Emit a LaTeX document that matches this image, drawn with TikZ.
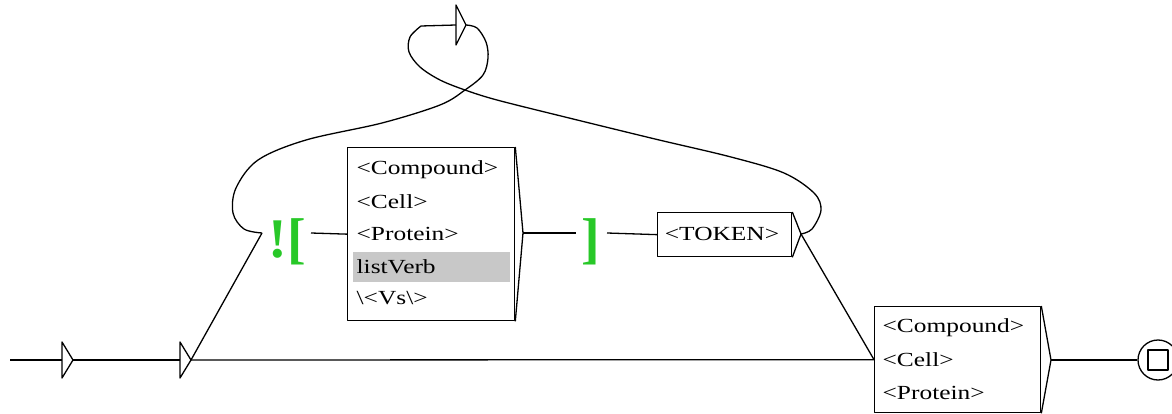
\documentclass[tikz,border=0pt]{standalone}
\usepackage{fontspec}
\newfontfamily\uxfont[FakeStretch=1.27]{Liberation Serif}
\newfontfamily\uxbold{Liberation Serif}
\definecolor{ctxgreen}{RGB}{40,200,40}
\definecolor{selgray}{RGB}{200,200,200}
\begin{document}
\begin{tikzpicture}[x=1pt,y=-1pt, line width=1.3pt, line join=round,
  boxrect/.style={draw, rectangle, anchor=north west, inner sep=0pt},
  lbl/.style={font=\uxfont\fontsize{20}{22}\selectfont, anchor=west, inner sep=0pt},
  ctx/.style={font=\uxbold\bfseries\fontsize{56}{60}\selectfont, text=ctxgreen, inner sep=0pt},
]
\useasboundingbox (0,0) rectangle (1172,414);

% ---------- states / arrows ----------
\coordinate (start) at (10,360);
\coordinate (s0in) at (62,360);
\coordinate (s0out) at (73,360);
\coordinate (s1in) at (180,360);
\coordinate (s1out) at (191,360);
\draw (62,342) -- (s0out) -- (62,378) -- cycle;
\draw (180,342) -- (s1out) -- (180,378) -- cycle;

% empty box at top
\coordinate (Ein) at (456,25);
\coordinate (Eout) at (466,25);
\draw (456,5) -- (Eout) -- (456,45) -- cycle;

% context start
\node[ctx] (ctxs) at (287,242) {![};
\coordinate (ctxin) at (262,233);
\coordinate (ctxout) at (311,233);

% box 1
\node[boxrect, minimum width=167pt, minimum height=173pt] (b1) at (347,147) {};
\fill[selgray] (353,252) rectangle (510,282);
\node[lbl] (b1a) at (356,170) {<Compound>};
\node[lbl] (b1b) at (356,202) {<Cell>};
\node[lbl] (b1c) at (356,234) {<Protein>};
\node[lbl] (b1d) at (356,267) {listVerb};
\node[lbl] (b1e) at (356,298) {\textbackslash<Vs\textbackslash>};
\coordinate (b1out) at (523,233);
\draw (b1.north east) -- (b1out) -- (b1.south east);

% context end
\node[ctx] (ctxe) at (591,242) {]};
\coordinate (ctxein) at (576,233);
\coordinate (ctxeout) at (607,233);

% TOKEN box
\node[boxrect, minimum width=134pt, minimum height=44pt] (tok) at (657,212) {};
\node[lbl, anchor=center] (toktxt) at (722,234) {<TOKEN>};
\coordinate (tokout) at (801,234);
\draw (tok.north east) -- (tokout) -- (tok.south east);

% bottom right box
\node[boxrect, minimum width=166pt, minimum height=106pt] (b2) at (874,306) {};
\node[lbl] (b2a) at (882,328) {<Compound>};
\node[lbl] (b2b) at (882,360) {<Cell>};
\node[lbl] (b2c) at (882,393) {<Protein>};
\coordinate (b2out) at (1051,360);
\draw (b2.north east) -- (b2out) -- (b2.south east);

% final state
\node[draw, circle, minimum size=40pt, inner sep=0pt] (fin) at (1158,360) {};
\node[draw, rectangle, minimum size=20pt, inner sep=0pt] (finsq) at (1158,360) {};

% ---------- connectors ----------
\draw (start) -- (s0in);
\draw (s0out) -- (s1in);
\draw (s1out) -- (b2.west);
\draw (s1out) -- (ctxin);
\draw (ctxout) -- (b1.west);
\draw (b1out) -- (ctxein);
\draw (ctxeout) -- (tok.west);
\draw (tokout) -- (b2.west);
\draw (b2out) -- (fin.west);

% loop: TOKEN -> top empty box
\draw plot[smooth, tension=0.55] coordinates {(tokout) (812,229) (821,210) (814,193) (784,173) (731,157) (655,139) (565,117) (497,100) (465,90) (440,80) (420,67) (409,52) (410,37) (421,26)} -- (Ein);
% loop: top empty box -> context start
\draw plot[smooth, tension=0.55] coordinates {(Eout) (477,28) (486,42) (488,58) (483,75) (465,90) (440,105) (382,123) (306,140) (258,160) (236,188) (233,213) (244,229) (ctxin)};
\end{tikzpicture}
\end{document}
